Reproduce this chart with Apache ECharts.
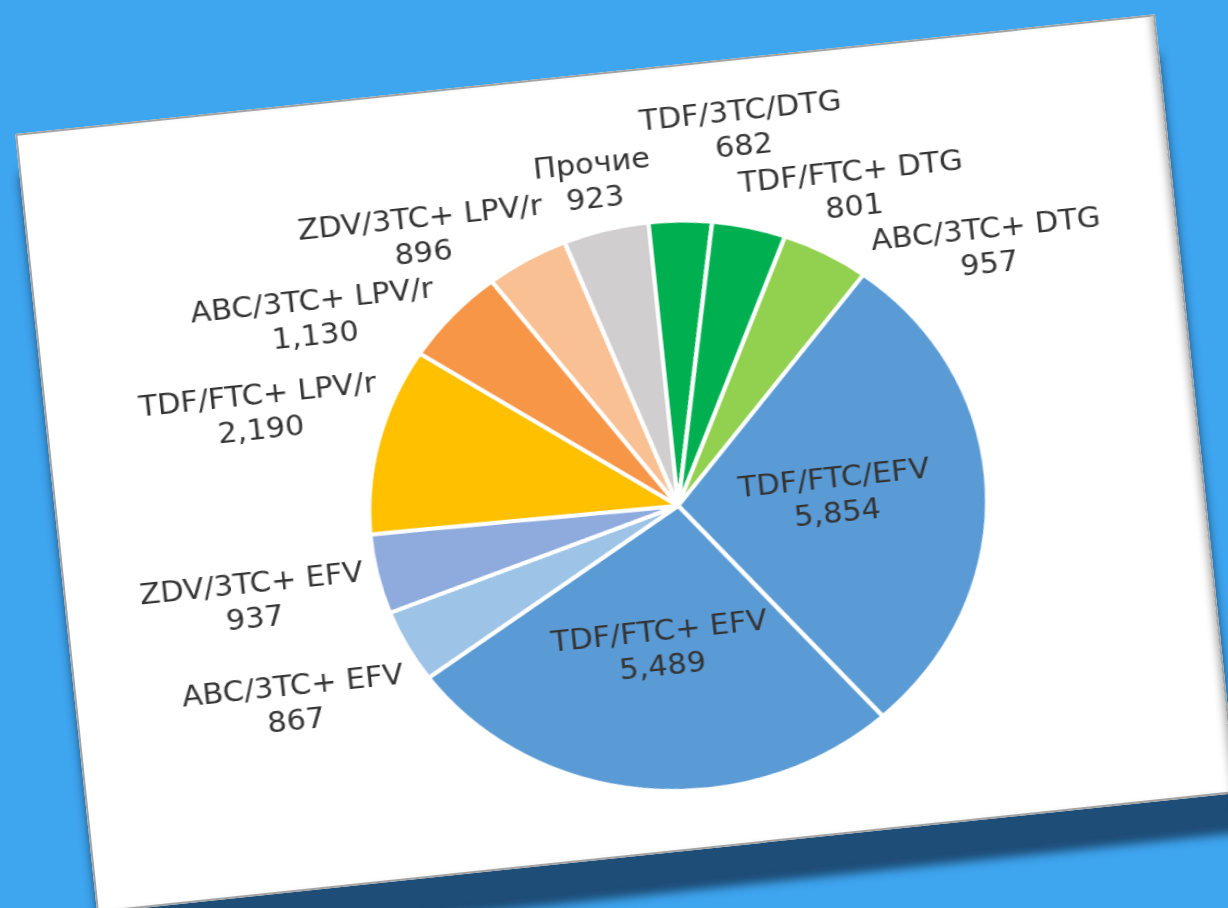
<!DOCTYPE html>
<html>
<head>
<meta charset="utf-8">
<script src="https://cdn.jsdelivr.net/npm/echarts@6/dist/echarts.min.js"></script>
<style>
  html, body { margin: 0; padding: 0; }
  body { width: 1228px; height: 908px; background: #3ea5ef; overflow: hidden; position: relative; }
  .card {
    position: absolute; left: 53px; top: 72px; width: 1146px; height: 783px;
    box-sizing: border-box; background: #fff; border: 2px solid #a3a3a3;
    transform: rotate(-6deg);
    box-shadow: 0 40px 10px rgba(28, 72, 112, 0.95), inset -8px 0 8px -6px rgba(0,0,0,0.35);
  }
  #chart { position: absolute; left: 0; top: 0; width: 1056px; height: 779px; transform: scaleX(1.085); transform-origin: 0 0; }
</style>
</head>
<body>
<div class="card"><div id="chart"></div></div>
<script>
// данные диаграммы, по часовой стрелке от 12 часов
const names = ["TDF/3TC/DTG", "TDF/FTC+ DTG", "ABC/3TC+ DTG", "TDF/FTC/EFV", "TDF/FTC+ EFV",
  "ABC/3TC+ EFV", "ZDV/3TC+ EFV", "TDF/FTC+ LPV/r", "ABC/3TC+ LPV/r", "ZDV/3TC+ LPV/r", "Прочие"];
const values = [682, 801, 957, 5854, 5489, 867, 937, 2190, 1130, 896, 923];
const colors = ["#00b050", "#00b050", "#92d050", "#5b9bd5", "#5b9bd5",
  "#9dc3e6", "#8faadc", "#ffc000", "#f79646", "#f9c093", "#d0cece"];
const insideLabels = [3, 4];

// геометрия
const CX = 570, CY = 437, R = 285;
const FONT = 28, LINE = 35, GAP = 10;

const fmt = v => v.toLocaleString("en-US");
const total = values.reduce((a, b) => a + b, 0);
let acc = 0;
const mid = values.map(v => { const m = (acc + v / 2) / total * 2 * Math.PI; acc += v; return m; });

// размеры подписей (две строки: название и значение)
const ctx = document.createElement("canvas").getContext("2d");
ctx.font = FONT + 'px "DejaVu Sans"';
const spots = [];
names.forEach((n, i) => {
  if (insideLabels.includes(i)) return;
  spots.push({ i: i, a: mid[i], out: 0, w1: ctx.measureText(n).width, w2: ctx.measureText(fmt(values[i])).width });
});
function place(s) {
  const ux = Math.sin(s.a), uy = -Math.cos(s.a), ax = Math.abs(ux);
  const ext = uy < 0 ? Math.max(s.w1 / 2 * ax, s.w2 / 2 * ax - LINE * uy)
                     : Math.max(s.w1 / 2 * ax + LINE * uy, s.w2 / 2 * ax);
  const d = R + GAP + s.out + ext;
  s.x = CX + d * ux; s.y = CY + d * uy;
}
function lines(s) {
  return [{ x: s.x, y: s.y - LINE / 2, w: s.w1 }, { x: s.x, y: s.y + LINE / 2, w: s.w2 }];
}
function overlap(a, b) {
  return lines(a).some(p => lines(b).some(q =>
    (p.w + q.w) / 2 + 4 > Math.abs(p.x - q.x) && LINE + 1 > Math.abs(p.y - q.y)));
}
// подписи отодвигаются от 12 часов, пока не перестанут пересекаться
spots.sort((a, b) => a.a - b.a);
const step = 0.2 * Math.PI / 180;
for (let it = 0; it < 800; it++) {
  spots.forEach(place);
  let moved = false;
  for (let k = 0; k < spots.length; k++) {
    const a = spots[k], b = spots[(k + 1) % spots.length];
    if (!overlap(a, b)) continue;
    const aLeft = a.a > Math.PI, bLeft = b.a > Math.PI;
    if (aLeft && !bLeft) { b.a += step; b.out += 1; }
    else if (aLeft) a.a -= step;
    else b.a += step;
    moved = true;
  }
  if (!moved) break;
}
spots.forEach(place);
const labelAt = {};
spots.forEach(s => { labelAt[s.i] = s; });

const chart = echarts.init(document.getElementById("chart"));
chart.setOption({
  animation: false,
  series: [{
    type: "pie",
    center: [CX, CY],
    radius: R,
    startAngle: 90,
    clockwise: true,
    avoidLabelOverlap: false,
    itemStyle: { borderColor: "#fff", borderWidth: 4 },
    label: {
      show: true,
      position: "outside",
      formatter: p => p.name + "\n" + fmt(p.value),
      color: "#333333",
      fontFamily: "DejaVu Sans",
      fontSize: FONT,
      lineHeight: LINE,
      align: "center"
    },
    labelLine: { show: false },
    labelLayout: p => {
      const s = labelAt[p.dataIndex];
      if (!s) return { align: "center", verticalAlign: "middle" };
      return { x: s.x, y: s.y, align: "center", verticalAlign: "middle" };
    },
    data: names.map((n, i) => ({
      name: n,
      value: values[i],
      itemStyle: { color: colors[i] },
      label: insideLabels.includes(i) ? { position: "inside" } : undefined
    }))
  }]
});
</script>
</body>
</html>
